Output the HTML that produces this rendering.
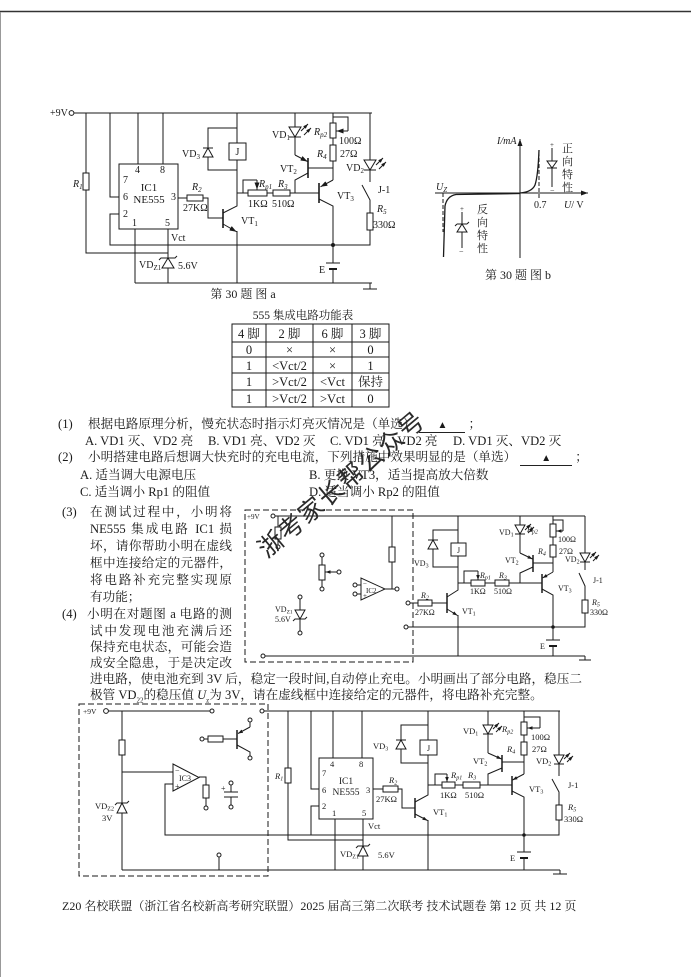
<!DOCTYPE html>
<html><head><meta charset="utf-8">
<style>
body{margin:0;background:#fff;}
#p{position:relative;width:691px;height:977px;overflow:hidden;background:#fff;font-family:"Liberation Serif","Noto Serif CJK SC",serif;color:#1a1a1a;}
.t{position:absolute;white-space:nowrap;font-size:12.6px;line-height:17px;font-family:"Liberation Serif","Noto Serif CJK SC",serif;}
.j{text-align:justify;text-align-last:justify;white-space:nowrap;}
.n{display:inline-block;width:30px;}
.bl{display:inline-block;width:46px;border-bottom:1px solid #222;text-align:center;line-height:12px;font-size:10px;margin:0 3px 0 4px;}
.wm{position:absolute;font-family:"Noto Sans CJK SC","WenQuanYi Zen Hei",sans-serif;font-size:25px;line-height:25px;color:#2a2a2a;transform:rotate(-40deg);}
svg{position:absolute;left:0;top:0;}
</style></head><body><div id="p">
<svg width="691" height="977" viewBox="0 0 691 977" xmlns="http://www.w3.org/2000/svg" font-family="Liberation Serif, Noto Serif CJK SC, serif">
<defs>
<marker id="a" viewBox="0 0 7 5" refX="7" refY="2.5" markerWidth="7" markerHeight="5" markerUnits="userSpaceOnUse" orient="auto"><path d="M0,0L7,2.5L0,5z" fill="#1a1a1a"/></marker>
<marker id="b" viewBox="0 0 7 5" refX="7" refY="2.5" markerWidth="5" markerHeight="3.6" markerUnits="userSpaceOnUse" orient="auto"><path d="M0,0L7,2.5L0,5z" fill="#1a1a1a"/></marker>
</defs>
<line x1="0" y1="11.5" x2="691" y2="11.5" stroke="#333" stroke-width="1.6"/>
<line x1="0.5" y1="12" x2="0.5" y2="977" stroke="#999" stroke-width="1"/>

<!-- ================= FIGURE A ================= -->
<g stroke="#1a1a1a" stroke-width="1" fill="none">
<path d="M74,113H372"/>
<path d="M86,113V253H168"/>
<path d="M110,113V197H119"/>
<path d="M138,113V164M163,113V164"/>
<path d="M119,214H110V245H370V230"/>
<path d="M135,229V283M168,229V283"/>
<path d="M135,283H372M370,283V289M363,289H377"/>
<path d="M178,198H187M203,198H208V218H223"/>
<path d="M223,209V228" stroke-width="1.6"/>
<path d="M223,213L237,206V113"/>
<line x1="223" y1="224" x2="236.5" y2="231.7" marker-end="url(#a)"/>
<path d="M237,231V283"/>
<path d="M237,128H208V170H237"/>
<path d="M237,193H248M243,193V180H257"/>
<line x1="257" y1="180" x2="257" y2="189.5" marker-end="url(#a)"/>
<path d="M267,193H273M290,193H319"/>
<path d="M319,183V203" stroke-width="1.6"/>
<line x1="333" y1="180" x2="320.5" y2="186.8" marker-end="url(#a)"/>
<path d="M333,180V161M333,138V145M333,113V123"/>
<path d="M319,199L333,206V263M333,269V283"/>
<path d="M326,263H340"/>
<path d="M329,269H337" stroke-width="2"/>
<path d="M333,117H348V131"/>
<line x1="348" y1="131" x2="336.5" y2="131" marker-end="url(#a)"/>
<path d="M295,113V127M295,137V155"/>
<path d="M308,158V178" stroke-width="1.6"/>
<line x1="295" y1="155" x2="307.5" y2="161.5" marker-end="url(#a)"/>
<path d="M308,173L295,180V193M308,168H333"/>
<path d="M370,113V160M370,170V182M362,185L370,200V213"/>
<line x1="301" y1="131" x2="308" y2="124" marker-end="url(#b)"/>
<line x1="304" y1="135" x2="311" y2="128" marker-end="url(#b)"/>
<line x1="376" y1="165" x2="383" y2="158" marker-end="url(#b)"/>
<line x1="379" y1="169" x2="386" y2="162" marker-end="url(#b)"/>
</g>
<g stroke="#1a1a1a" stroke-width="1" fill="#fff">
<circle cx="71.5" cy="113" r="2.4"/>
<rect x="83" y="173" width="6" height="17"/>
<rect x="119" y="164" width="59" height="65"/>
<rect x="187" y="195" width="16" height="6"/>
<rect x="229" y="143" width="17" height="17"/>
<polygon points="208,148 203,157 213,157"/>
<rect x="248" y="190" width="19" height="6"/>
<rect x="273" y="190" width="17" height="6"/>
<rect x="330" y="145" width="6" height="16"/>
<rect x="330" y="123" width="6" height="15"/>
<polygon points="289,127 301,127 295,137"/>
<polygon points="364,160 376,160 370,170"/>
<rect x="367" y="213" width="6" height="17"/>
<polygon points="168,258 162,268 174,268"/>
</g>
<g stroke="#1a1a1a" stroke-width="1" fill="none">
<path d="M203,148H213M289,137H301M364,170H376"/>
<path d="M159,260L161,258H175L177,256"/>
</g>
<circle cx="333" cy="245" r="2" fill="#1a1a1a"/>
<g font-size="10" fill="#1a1a1a">
<text x="50" y="116">+9V</text>
<text x="73" y="187" font-style="italic">R<tspan font-size="7" dy="2">1</tspan></text>
<text x="135" y="173">4</text><text x="160" y="173">8</text>
<text x="123" y="183">7</text><text x="123" y="200">6</text><text x="123" y="217">2</text>
<text x="132" y="226">1</text><text x="165" y="226">5</text><text x="171" y="200">3</text>
<text x="149" y="191" text-anchor="middle" font-size="11">IC1</text>
<text x="149" y="203" text-anchor="middle" font-size="11">NE555</text>
<text x="171" y="241">Vct</text>
<text x="139" y="268">VD<tspan font-size="7" dy="2">Z1</tspan></text>
<text x="178" y="269">5.6V</text>
<text x="192" y="190" font-style="italic">R<tspan font-size="7" dy="2">2</tspan></text>
<text x="183" y="211">27KΩ</text>
<text x="241" y="224">VT<tspan font-size="7" dy="2">1</tspan></text>
<text x="237.5" y="155" text-anchor="middle">J</text>
<text x="182" y="157">VD<tspan font-size="7" dy="2">3</tspan></text>
<text x="259" y="187" font-style="italic">R<tspan font-size="7" dy="2">p1</tspan></text>
<text x="248" y="207">1KΩ</text>
<text x="278" y="187" font-style="italic">R<tspan font-size="7" dy="2">3</tspan></text>
<text x="272" y="207">510Ω</text>
<text x="337" y="199">VT<tspan font-size="7" dy="2">3</tspan></text>
<text x="319" y="273">E</text>
<text x="317" y="157" font-style="italic">R<tspan font-size="7" dy="2">4</tspan></text>
<text x="340" y="157">27Ω</text>
<text x="314" y="135" font-style="italic">R<tspan font-size="7" dy="2">p2</tspan></text>
<text x="339" y="144">100Ω</text>
<text x="272" y="138">VD<tspan font-size="7" dy="2">1</tspan></text>
<text x="280" y="172">VT<tspan font-size="7" dy="2">2</tspan></text>
<text x="346" y="171">VD<tspan font-size="7" dy="2">2</tspan></text>
<text x="378" y="193">J-1</text>
<text x="377" y="212" font-style="italic">R<tspan font-size="7" dy="2">5</tspan></text>
<text x="373" y="228">330Ω</text>
<text x="243" y="298" text-anchor="middle" font-size="12">第 30 题  图 a</text>
</g>

<!-- ================= FIGURE B ================= -->
<g stroke="#1a1a1a" stroke-width="1" fill="none">
<line x1="520" y1="258" x2="520" y2="139" marker-end="url(#a)"/>
<line x1="435" y1="193" x2="588" y2="193" marker-end="url(#a)"/>
<path d="M443,193V232M539,152V198" stroke-dasharray="4,2"/>
<path d="M443.5,257L445,206Q447,196 456,194.5L520,193.5" stroke-width="1.3"/>
<path d="M520,193Q532,192 535,185Q538,176 539,150" stroke-width="1.3"/>
<path d="M552,148V187M547,168H557"/>
<path d="M462,212V248M457,224H467M455,226L457,224M467,224L469,222"/>
</g>
<g stroke="#1a1a1a" stroke-width="1" fill="#fff">
<polygon points="547,161 557,161 552,168"/>
<polygon points="462,224 457,232 467,232"/>
</g>
<g font-size="10" fill="#1a1a1a">
<text x="497" y="144" font-style="italic">I/mA</text>
<text x="564" y="208"><tspan font-style="italic">U</tspan>/ V</text>
<text x="436" y="190" font-style="italic">U<tspan font-size="7" dy="2">Z</tspan></text>
<text x="534" y="208">0.7</text>
<text x="550" y="147" font-size="7">+</text>
<text x="550" y="193" font-size="8">−</text>
<text x="460" y="211" font-size="7">+</text>
<text x="459" y="254" font-size="8">−</text>
<g font-size="11" font-family="Noto Serif CJK SC, serif">
<text x="562" y="152">正</text><text x="562" y="165">向</text><text x="562" y="178">特</text><text x="562" y="191">性</text>
<text x="477" y="213">反</text><text x="477" y="226">向</text><text x="477" y="239">特</text><text x="477" y="252">性</text>
</g>
<text x="518" y="279" text-anchor="middle" font-size="12">第 30 题  图 b</text>
</g>

<!-- ================= TABLE ================= -->
<text x="303" y="319" text-anchor="middle" font-size="11.5" fill="#1a1a1a">555 集成电路功能表</text>
<g stroke="#1a1a1a" stroke-width="1" fill="none">
<rect x="232" y="324" width="157" height="83"/>
<path d="M266,324V407M313,324V407M352,324V407"/>
<path d="M232,342H389M232,357H389M232,373H389M232,390H389"/>
</g>
<g font-size="12.5" fill="#1a1a1a" text-anchor="middle">
<text x="249" y="338">4 脚</text><text x="289.5" y="338">2 脚</text><text x="332.5" y="338">6 脚</text><text x="370.5" y="338">3 脚</text>
<text x="249" y="354">0</text><text x="289.5" y="354">×</text><text x="332.5" y="354">×</text><text x="370.5" y="354">0</text>
<text x="249" y="370">1</text><text x="289.5" y="370">&lt;Vct/2</text><text x="332.5" y="370">×</text><text x="370.5" y="370">1</text>
<text x="249" y="386">1</text><text x="289.5" y="386">&gt;Vct/2</text><text x="332.5" y="386">&lt;Vct</text><text x="370.5" y="386">保持</text>
<text x="249" y="403">1</text><text x="289.5" y="403">&gt;Vct/2</text><text x="332.5" y="403">&gt;Vct</text><text x="370.5" y="403">0</text>
</g>

<!-- ================= MIDDLE CIRCUIT ================= -->
<rect x="245" y="510" width="168" height="152" fill="none" stroke="#1a1a1a" stroke-width="1" stroke-dasharray="6,3"/>
<g stroke="#1a1a1a" stroke-width="1" fill="none">
<path d="M275,516H585"/>
<path d="M278,516V527M278,539V545"/>
<path d="M322,557V565M322,580V587"/>
<line x1="337" y1="572" x2="325.5" y2="572" marker-end="url(#b)"/>
<path d="M357,585H361M357,594H361M385,589H395"/>
<path d="M392,516V547M392,562V589"/>
<path d="M300,599V610M300,619V631M293,621L295,619H305L307,617"/>
<path d="M265,656H585M585,656V660M579,660H591"/>
<path d="M408,627H585V613"/>
<path d="M410,603H418M432,603H447"/>
<path d="M447,593V613" stroke-width="1.5"/>
<path d="M447,597L458,590V516"/>
<line x1="447" y1="609" x2="457.5" y2="615.5" marker-end="url(#b)"/>
<path d="M458,615V656"/>
<path d="M458,530H433V567H458M428,540H438"/>
<path d="M458,583H471M464,583V571H478"/>
<line x1="478" y1="571" x2="478" y2="580" marker-end="url(#b)"/>
<path d="M485,583H495M509,583H542"/>
<path d="M520,583V573L533,567"/>
<path d="M533,555V572" stroke-width="1.5"/>
<line x1="520" y1="553" x2="532.5" y2="559" marker-end="url(#b)"/>
<path d="M520,553V534M520,516V525M515,534H525M533,563H553"/>
<path d="M542,574V593" stroke-width="1.5"/>
<line x1="553" y1="572" x2="542.5" y2="578" marker-end="url(#b)"/>
<path d="M553,572V557M542,589L553,595V640M546,640H560M553,646V656"/>
<path d="M549,646H557" stroke-width="2"/>
<path d="M553,537V545M553,516V524M553,520H563V531"/>
<line x1="563" y1="531" x2="556.5" y2="531" marker-end="url(#b)"/>
<path d="M585,516V553M580,562H590M585,562V570M579,573L585,586V600"/>
<line x1="525" y1="530" x2="531" y2="524" marker-end="url(#b)"/>
<line x1="528" y1="533" x2="534" y2="527" marker-end="url(#b)"/>
<line x1="590" y1="558" x2="596" y2="552" marker-end="url(#b)"/>
<line x1="593" y1="561" x2="599" y2="555" marker-end="url(#b)"/>
</g>
<g stroke="#1a1a1a" stroke-width="1" fill="#fff">
<circle cx="273" cy="516" r="2"/>
<rect x="275" y="527" width="6" height="12"/>
<circle cx="278" cy="547" r="2"/>
<circle cx="322" cy="555" r="2"/>
<rect x="319" y="565" width="6" height="15"/>
<circle cx="322" cy="589" r="2"/>
<circle cx="339" cy="572" r="2"/>
<polygon points="361,578 361,600 385,589"/>
<circle cx="355" cy="585" r="2"/><circle cx="355" cy="594" r="2"/>
<circle cx="397" cy="589" r="2"/>
<rect x="389" y="547" width="6" height="15"/>
<circle cx="300" cy="597" r="2"/>
<polygon points="295,610 305,610 300,619"/>
<circle cx="300" cy="633" r="2"/>
<circle cx="263" cy="656" r="2"/>
<circle cx="406" cy="627" r="2"/>
<circle cx="408" cy="603" r="2"/>
<rect x="418" y="600" width="14" height="6"/>
<rect x="451" y="543" width="15" height="13"/>
<polygon points="433,540 428,549 438,549"/>
<rect x="471" y="580" width="14" height="6"/>
<rect x="495" y="580" width="14" height="6"/>
<polygon points="515,525 525,525 520,534"/>
<rect x="550" y="545" width="6" height="12"/>
<rect x="550" y="524" width="6" height="13"/>
<polygon points="580,553 590,553 585,562"/>
<rect x="582" y="600" width="6" height="13"/>
</g>
<path d="M428,540H438" stroke="#1a1a1a"/>
<circle cx="553" cy="627" r="1.8" fill="#1a1a1a"/>
<g font-size="8" fill="#1a1a1a">
<text x="247" y="519" font-size="7">+9V</text>
<text x="363" y="586" font-size="7">−</text>
<text x="363" y="598" font-size="7">+</text>
<text x="366" y="593" font-size="7">IC2</text>
<text x="275" y="612">VD<tspan font-size="5.5" dy="1.5">Z1</tspan></text>
<text x="275" y="622">5.6V</text>
<text x="421" y="598" font-style="italic">R<tspan font-size="6" dy="1.5">2</tspan></text>
<text x="415" y="615">27KΩ</text>
<text x="462" y="614">VT<tspan font-size="6" dy="1.5">1</tspan></text>
<text x="458.5" y="553" text-anchor="middle">J</text>
<text x="414" y="566">VD<tspan font-size="6" dy="1.5">3</tspan></text>
<text x="480" y="578" font-style="italic">R<tspan font-size="6" dy="1.5">p1</tspan></text>
<text x="470" y="594">1KΩ</text>
<text x="499" y="578" font-style="italic">R<tspan font-size="6" dy="1.5">3</tspan></text>
<text x="494" y="594">510Ω</text>
<text x="505" y="563">VT<tspan font-size="6" dy="1.5">2</tspan></text>
<text x="558" y="591">VT<tspan font-size="6" dy="1.5">3</tspan></text>
<text x="540" y="649">E</text>
<text x="538" y="554" font-style="italic">R<tspan font-size="6" dy="1.5">4</tspan></text>
<text x="559" y="554">27Ω</text>
<text x="527" y="532" font-style="italic">R<tspan font-size="6" dy="1.5">p2</tspan></text>
<text x="558" y="542">100Ω</text>
<text x="499" y="535">VD<tspan font-size="6" dy="1.5">1</tspan></text>
<text x="565" y="562">VD<tspan font-size="6" dy="1.5">2</tspan></text>
<text x="593" y="583">J-1</text>
<text x="592" y="605" font-style="italic">R<tspan font-size="6" dy="1.5">5</tspan></text>
<text x="590" y="615">330Ω</text>
</g>

<!-- ================= BOTTOM CIRCUIT ================= -->
<rect x="79" y="704" width="189" height="172" fill="none" stroke="#1a1a1a" stroke-width="1" stroke-dasharray="6,3"/>
<g stroke="#1a1a1a" stroke-width="1" fill="none">
<path d="M108.5,711H210M264,711H560"/>
<path d="M122,711V740M122,755V803M122,813V870M115,805L117,803H127L129,801"/>
<path d="M122,772H173"/>
<path d="M199,777H206V785M206,798V806"/>
<path d="M173,784H165V835H559V820"/>
<path d="M122,870H560M219,857V870M560,870V874M553,874H567"/>
<path d="M204,739H208M223,739H237"/>
<path d="M237,730V749" stroke-width="1.5"/>
<line x1="250" y1="727" x2="238" y2="733.5" marker-end="url(#b)"/>
<path d="M250,727V722M237,745L250,752V756"/>
<path d="M231,785V792M224,792H238M224,797H238M231,797V805"/>
<path d="M288,711V768M288,783V840H363"/>
<path d="M311,711V789H319M319,806H311V835"/>
<path d="M333,711V758M362,711V758"/>
<path d="M335,819V870M363,819V846M363,856V870M356,848L358,846H368L370,844"/>
<path d="M373,789H383M398,789H402V808H415"/>
<path d="M415,798V818" stroke-width="1.5"/>
<path d="M415,802L428,795V711"/>
<line x1="415" y1="814" x2="427.5" y2="820.5" marker-end="url(#b)"/>
<path d="M428,820V870"/>
<path d="M428,725H401V763H428M396,740H406"/>
<path d="M428,785H442M435,785V774H447"/>
<line x1="447" y1="774" x2="447" y2="782" marker-end="url(#b)"/>
<path d="M455,785H463M480,785H512"/>
<path d="M488,785V774L502,768"/>
<path d="M502,755V772" stroke-width="1.5"/>
<line x1="488" y1="753" x2="501.5" y2="759" marker-end="url(#b)"/>
<path d="M488,753V734M488,711V725M483,734H493M502,762H524"/>
<path d="M512,776V795" stroke-width="1.5"/>
<line x1="524" y1="774" x2="512.5" y2="780" marker-end="url(#b)"/>
<path d="M524,774V755M512,791L524,797V852M517,852H531M524,858V870"/>
<path d="M520,858H528" stroke-width="2"/>
<path d="M524,735V742M524,711V722M524,717H540V728"/>
<line x1="540" y1="728" x2="527.5" y2="728" marker-end="url(#b)"/>
<path d="M559,711V755M554,764H564M559,764V776M552,779L559,792V805M559,820V835"/>
<line x1="493" y1="729" x2="499" y2="723" marker-end="url(#b)"/>
<line x1="496" y1="732" x2="502" y2="726" marker-end="url(#b)"/>
<line x1="564" y1="759" x2="570" y2="753" marker-end="url(#b)"/>
<line x1="567" y1="762" x2="573" y2="756" marker-end="url(#b)"/>
</g>
<g stroke="#1a1a1a" stroke-width="1" fill="#fff">
<circle cx="106" cy="711" r="2.4"/>
<circle cx="212" cy="711" r="2"/>
<circle cx="262" cy="711" r="2"/>
<rect x="119" y="740" width="6" height="15"/>
<polygon points="122,803 117,813 127,813"/>
<polygon points="173,764 173,791 199,777.5"/>
<rect x="203" y="785" width="6" height="13"/>
<circle cx="206" cy="808" r="2"/>
<circle cx="219" cy="855" r="2"/>
<circle cx="202" cy="739" r="2"/>
<rect x="208" y="736" width="15" height="6"/>
<circle cx="250" cy="720" r="2"/>
<circle cx="250" cy="758" r="2"/>
<circle cx="231" cy="783" r="2"/>
<circle cx="231" cy="807" r="2"/>
<rect x="285" y="768" width="6" height="15"/>
<rect x="319" y="758" width="54" height="61"/>
<polygon points="363,846 358,856 368,856"/>
<rect x="383" y="786" width="15" height="6"/>
<rect x="420" y="740" width="17" height="15"/>
<polygon points="401,740 396,749 406,749"/>
<rect x="442" y="782" width="13" height="6"/>
<rect x="463" y="782" width="17" height="6"/>
<polygon points="483,725 493,725 488,734"/>
<rect x="521" y="742" width="6" height="13"/>
<rect x="521" y="722" width="6" height="13"/>
<polygon points="554,755 564,755 559,764"/>
<rect x="556" y="805" width="6" height="15"/>
</g>
<g stroke="#1a1a1a" fill="none"><path d="M396,740H406M117,803H127M358,846H368"/></g>
<circle cx="524" cy="835" r="1.8" fill="#1a1a1a"/>
<g font-size="8.5" fill="#1a1a1a">
<text x="83" y="714" font-size="7.5">+9V</text>
<text x="175" y="773" font-size="8">−</text>
<text x="175" y="789" font-size="8">+</text>
<text x="179" y="781" font-size="8">IC3</text>
<text x="95" y="809">VD<tspan font-size="6" dy="1.5">Z2</tspan></text>
<text x="102" y="821">3V</text>
<text x="221" y="791" font-size="8">+</text>
<text x="275" y="779" font-style="italic">R<tspan font-size="6" dy="1.5">1</tspan></text>
<text x="330" y="767">4</text><text x="359" y="767">8</text>
<text x="322" y="776">7</text><text x="322" y="793">6</text><text x="322" y="809">2</text>
<text x="332" y="816">1</text><text x="362" y="816">5</text><text x="366" y="793">3</text>
<text x="346" y="784" text-anchor="middle" font-size="9.5">IC1</text>
<text x="346" y="795" text-anchor="middle" font-size="9.5">NE555</text>
<text x="368" y="829">Vct</text>
<text x="340" y="857">VD<tspan font-size="6" dy="1.5">Z1</tspan></text>
<text x="378" y="858">5.6V</text>
<text x="389" y="783" font-style="italic">R<tspan font-size="6" dy="1.5">2</tspan></text>
<text x="376" y="802">27KΩ</text>
<text x="433" y="815">VT<tspan font-size="6" dy="1.5">1</tspan></text>
<text x="428.5" y="751" text-anchor="middle">J</text>
<text x="373" y="749">VD<tspan font-size="6" dy="1.5">3</tspan></text>
<text x="451" y="778" font-style="italic">R<tspan font-size="6" dy="1.5">p1</tspan></text>
<text x="440" y="798">1KΩ</text>
<text x="468" y="778" font-style="italic">R<tspan font-size="6" dy="1.5">3</tspan></text>
<text x="465" y="798">510Ω</text>
<text x="473" y="764">VT<tspan font-size="6" dy="1.5">2</tspan></text>
<text x="529" y="792">VT<tspan font-size="6" dy="1.5">3</tspan></text>
<text x="510" y="861">E</text>
<text x="507" y="752" font-style="italic">R<tspan font-size="6" dy="1.5">4</tspan></text>
<text x="532" y="752">27Ω</text>
<text x="502" y="732" font-style="italic">R<tspan font-size="6" dy="1.5">p2</tspan></text>
<text x="531" y="740">100Ω</text>
<text x="463" y="734">VD<tspan font-size="6" dy="1.5">1</tspan></text>
<text x="536" y="764">VD<tspan font-size="6" dy="1.5">2</tspan></text>
<text x="568" y="788">J-1</text>
<text x="568" y="810" font-style="italic">R<tspan font-size="6" dy="1.5">5</tspan></text>
<text x="564" y="822">330Ω</text>
</g>
</svg>

<!-- ================= TEXT ================= -->
<div class="t" style="left:58px;top:416px"><span class="n">(1)</span>根据电路原理分析，慢充状态时指示灯亮灭情况是（单选）<span class="bl">▲</span>；</div>
<div class="t" style="left:85px;top:433px">A. VD1 灭、VD2 亮</div>
<div class="t" style="left:208px;top:433px">B. VD1 亮、VD2 灭</div>
<div class="t" style="left:330px;top:433px">C. VD1 亮、VD2 亮</div>
<div class="t" style="left:453px;top:433px">D. VD1 灭、VD2 灭</div>
<div class="t" style="left:58px;top:449px"><span class="n">(2)</span>小明搭建电路后想调大快充时的充电电流，下列措施中效果明显的是（单选）<span class="bl" style="width:52px">▲</span>；</div>
<div class="t" style="left:80px;top:467px">A. 适当调大电源电压</div>
<div class="t" style="left:309px;top:467px">B. 更换 VT3，适当提高放大倍数</div>
<div class="t" style="left:80px;top:484px">C. 适当调小 Rp1 的阻值</div>
<div class="t" style="left:309px;top:484px">D. 适当调小 Rp2 的阻值</div>

<div class="t" style="left:62px;top:504px">(3)</div>
<div class="t j" style="left:90px;top:504px;width:142px">在测试过程中，小明将</div>
<div class="t j" style="left:90px;top:521px;width:142px">NE555 集成电路 IC1 损</div>
<div class="t j" style="left:90px;top:538px;width:142px">坏，请你帮助小明在虚线</div>
<div class="t j" style="left:90px;top:555px;width:142px">框中连接给定的元器件，</div>
<div class="t j" style="left:90px;top:572px;width:142px">将电路补充完整实现原</div>
<div class="t" style="left:90px;top:589px">有功能；</div>
<div class="t" style="left:62px;top:606px">(4)</div>
<div class="t j" style="left:87px;top:606px;width:145px">小明在对题图 a 电路的测</div>
<div class="t j" style="left:90px;top:623px;width:142px">试中发现电池充满后还</div>
<div class="t j" style="left:90px;top:639px;width:142px">保持充电状态，可能会造</div>
<div class="t j" style="left:90px;top:655px;width:142px">成安全隐患，于是决定改</div>
<div class="t j" style="left:90px;top:671px;width:492px">进电路，使电池充到 3V 后，稳定一段时间,自动停止充电。小明画出了部分电路，稳压二</div>
<div class="t" style="left:90px;top:687px">极管 VD<sub style="font-size:7px">22</sub>的稳压值 <i>U</i><sub style="font-size:7px">z</sub>为 3V，请在虚线框中连接给定的元器件，将电路补充完整。</div>

<div class="t" style="left:62px;top:898px;font-size:12px">Z20 名校联盟（浙江省名校新高考研究联盟）2025 届高三第二次联考  技术试题卷   第 12 页  共 12 页</div>

<div class="wm" style="left:258px;top:531px">浙</div>
<div class="wm" style="left:278px;top:514px">考</div>
<div class="wm" style="left:298px;top:497px">家</div>
<div class="wm" style="left:318px;top:480px">长</div>
<div class="wm" style="left:338px;top:463px">帮</div>
<div class="wm" style="left:358px;top:446px">公</div>
<div class="wm" style="left:378px;top:429px">众</div>
<div class="wm" style="left:398px;top:412px">号</div>
</div></body></html>
